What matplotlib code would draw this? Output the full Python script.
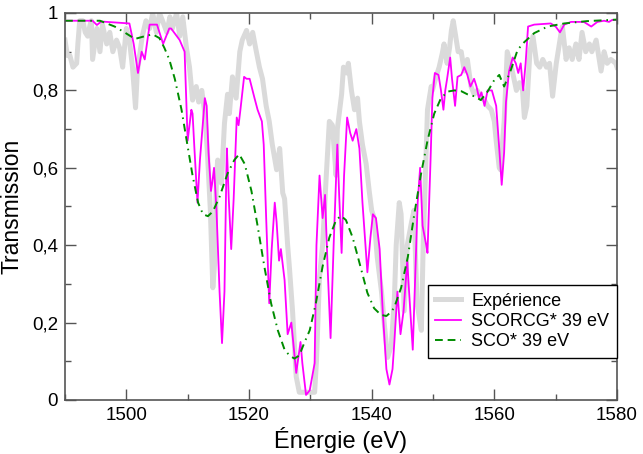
import numpy as np
import matplotlib.pyplot as plt
from matplotlib.ticker import MultipleLocator, FuncFormatter

plt.rcParams['font.family'] = ['Liberation Sans', 'DejaVu Sans']

# Experience (gray, noisy)
exp_E = [1490.0, 1490.4, 1490.8, 1491.3, 1491.9, 1492.1, 1492.4, 1492.9, 1493.3, 1493.7,
         1494.1, 1494.3, 1494.5, 1495.2, 1495.7, 1496.1, 1496.8, 1497.3, 1497.8, 1498.4,
         1498.9, 1499.4, 1500.0, 1500.5, 1501.0, 1501.5, 1501.8, 1502.6, 1503.2, 1503.8,
         1504.3, 1504.9, 1505.4, 1505.9, 1506.6, 1507.1, 1507.5, 1508.2, 1508.7, 1509.2,
         1509.8, 1510.3, 1510.8, 1511.4, 1511.8, 1512.3, 1512.8, 1513.2, 1513.7, 1514.1,
         1514.4, 1514.7, 1514.9, 1515.5, 1516.0, 1516.5, 1516.8, 1517.3, 1517.9, 1518.5,
         1518.9, 1519.6, 1520.1, 1520.6, 1521.2, 1521.7, 1522.2, 1522.8, 1523.3, 1523.8,
         1524.5, 1525.0, 1525.5, 1525.8, 1526.3, 1526.6, 1527.1, 1527.7, 1528.2, 1529.0,
         1529.9, 1530.7, 1531.0, 1531.5, 1532.0, 1532.6, 1533.1, 1533.6, 1534.2, 1534.4,
         1535.1, 1535.4, 1535.9, 1536.2, 1536.7, 1537.2, 1537.7, 1538.0, 1538.5, 1539.1,
         1539.6, 1540.0, 1540.4, 1540.9, 1541.6, 1542.1, 1542.6, 1543.2, 1543.7, 1544.0,
         1544.5, 1544.8, 1545.3, 1545.8, 1546.5, 1546.9, 1547.4, 1548.1, 1548.4, 1548.9,
         1549.1, 1549.7, 1549.9, 1550.5, 1551.0, 1551.5, 1551.8, 1552.3, 1552.7, 1553.0,
         1553.3, 1553.8, 1554.1, 1554.6, 1555.1, 1555.6, 1556.2, 1556.7, 1557.2, 1557.9,
         1558.4, 1558.9, 1559.5, 1560.0, 1560.3, 1560.8, 1561.0, 1561.6, 1562.1, 1562.8,
         1563.6, 1564.1, 1564.6, 1564.9, 1565.3, 1565.8, 1566.3, 1566.9, 1567.4, 1567.9,
         1568.5, 1569.0, 1569.5, 1570.1, 1570.9, 1571.1, 1571.7, 1572.2, 1572.7, 1573.3,
         1573.8, 1574.3, 1574.9, 1575.5, 1575.9, 1576.6, 1577.4, 1577.9, 1578.4, 1579.0,
         1579.8, 1580.0]
exp_T = [0.93, 0.89, 0.89, 0.86, 0.87, 0.92, 0.98, 0.98, 0.95, 0.94,
         0.97, 0.98, 0.88, 0.96, 0.90, 0.97, 0.92, 0.95, 0.90, 0.93,
         0.91, 0.86, 0.96, 0.93, 0.86, 0.755, 0.85, 0.94, 0.98, 0.96,
         1.0, 0.95, 1.0, 0.98, 0.95, 0.99, 0.96, 1.0, 0.94, 0.99,
         0.91, 0.86, 0.775, 0.81, 0.77, 0.80, 0.74, 0.645, 0.49, 0.29,
         0.355, 0.58, 0.62, 0.56, 0.715, 0.79, 0.74, 0.835, 0.78, 0.90,
         0.93, 0.955, 0.92, 0.95, 0.90, 0.86, 0.83, 0.76, 0.72, 0.66,
         0.595, 0.65, 0.535, 0.52, 0.40, 0.34, 0.23, 0.06, 0.02, 0.02,
         0.02, 0.02, 0.10, 0.32, 0.40, 0.58, 0.72, 0.71, 0.58, 0.70,
         0.79, 0.86, 0.845, 0.87, 0.80, 0.75, 0.78, 0.72, 0.66, 0.61,
         0.54, 0.49, 0.47, 0.37, 0.28, 0.19, 0.11, 0.14, 0.26, 0.40,
         0.51, 0.48, 0.23, 0.40, 0.46, 0.49, 0.25, 0.18, 0.40, 0.645,
         0.75, 0.81, 0.80, 0.835, 0.86, 0.895, 0.92, 0.87, 0.91, 0.955,
         0.98, 0.93, 0.90, 0.90, 0.85, 0.88, 0.81, 0.79, 0.80, 0.78,
         0.775, 0.76, 0.75, 0.72, 0.67, 0.60, 0.595, 0.72, 0.90, 0.86,
         0.80, 0.82, 0.80, 0.73, 0.76, 0.90, 0.94, 0.87, 0.86, 0.88,
         0.86, 0.87, 0.785, 0.87, 0.95, 0.965, 0.88, 0.91, 0.88, 0.92,
         0.88, 0.95, 0.90, 0.92, 0.90, 0.93, 0.85, 0.90, 0.87, 0.88,
         0.87, 0.86]

# SCORCG* 39 eV (magenta)
scorcg_E = [1490.0, 1494.5, 1495.2, 1495.9, 1500.5, 1501.2, 1501.9, 1502.5, 1503.0, 1503.8,
            1505.0, 1506.0, 1507.0, 1507.3, 1508.7, 1509.5, 1510.0, 1510.6, 1510.8, 1511.1,
            1511.6, 1512.0, 1512.8, 1513.1, 1513.4, 1513.8, 1514.0, 1514.3, 1514.7, 1515.2,
            1515.6, 1516.0, 1516.3, 1516.4, 1516.7, 1517.1, 1517.5, 1518.0, 1518.3, 1518.6,
            1519.2, 1519.6, 1520.1, 1520.9, 1521.4, 1522.1, 1522.4, 1522.8, 1523.3, 1523.7,
            1524.2, 1524.5, 1524.9, 1525.2, 1525.8, 1526.3, 1526.9, 1527.7, 1528.4, 1528.7,
            1529.3, 1529.9, 1530.7, 1531.0, 1531.5, 1532.0, 1532.4, 1532.8, 1533.3, 1533.8,
            1534.4, 1534.7, 1535.1, 1535.5, 1536.0, 1536.5, 1536.9, 1537.5, 1538.0, 1538.5,
            1539.3, 1539.8, 1540.2, 1540.7, 1541.3, 1541.8, 1542.4, 1542.9, 1543.4, 1543.7,
            1544.2, 1544.7, 1545.2, 1545.8, 1546.1, 1546.7, 1547.1, 1547.5, 1547.9, 1548.3,
            1548.9, 1549.1, 1549.6, 1549.9, 1550.3, 1550.9, 1551.3, 1551.7, 1552.0, 1552.3,
            1552.8, 1553.1, 1553.6, 1554.0, 1554.6, 1555.1, 1555.6, 1556.1, 1556.7, 1557.1,
            1557.5, 1557.9, 1558.4, 1558.9, 1559.6, 1560.3, 1560.8, 1561.2, 1561.6, 1561.9,
            1562.4, 1563.0, 1563.5, 1563.9, 1564.3, 1564.7, 1565.1, 1565.5, 1566.5, 1569.2,
            1570.0, 1570.7, 1571.4, 1572.5, 1574.6, 1575.8, 1576.8, 1577.9, 1578.7, 1579.2,
            1580.0]
scorcg_T = [0.98, 0.98, 0.969, 0.978, 0.973, 0.92, 0.845, 0.90, 0.88, 0.97,
            0.97, 0.92, 0.96, 0.96, 0.93, 0.90, 0.67, 0.75, 0.74, 0.65,
            0.51, 0.62, 0.78, 0.76, 0.64, 0.54, 0.56, 0.60, 0.49, 0.28,
            0.147, 0.28, 0.58, 0.65, 0.52, 0.39, 0.52, 0.73, 0.71, 0.75,
            0.835, 0.83, 0.83, 0.78, 0.75, 0.72, 0.66, 0.47, 0.25, 0.39,
            0.51, 0.46, 0.36, 0.39, 0.31, 0.17, 0.20, 0.07, 0.15, 0.095,
            0.013, 0.025, 0.095, 0.40, 0.58, 0.47, 0.53, 0.35, 0.16, 0.40,
            0.66, 0.53, 0.38, 0.58, 0.73, 0.69, 0.67, 0.70, 0.65, 0.51,
            0.33, 0.42, 0.48, 0.47, 0.39, 0.23, 0.08, 0.04, 0.08, 0.15,
            0.28, 0.17, 0.23, 0.36, 0.28, 0.13, 0.32, 0.51, 0.60, 0.45,
            0.40, 0.38, 0.62, 0.78, 0.845, 0.84, 0.80, 0.75, 0.80, 0.83,
            0.885, 0.83, 0.76, 0.835, 0.84, 0.86, 0.84, 0.81, 0.83, 0.81,
            0.78, 0.795, 0.76, 0.80, 0.80, 0.76, 0.65, 0.556, 0.64, 0.77,
            0.85, 0.885, 0.87, 0.845, 0.87, 0.80, 0.87, 0.965, 0.97, 0.973,
            0.965, 0.95, 0.97, 0.977, 0.977, 0.965, 0.977, 0.98, 0.977, 0.982,
            0.982]

# SCO* 39 eV (green dashed)
sco_E = [1490.0, 1495.7, 1498.1, 1499.7, 1501.4, 1503.0, 1504.3, 1505.4, 1506.2, 1507.0,
         1507.9, 1509.0, 1510.0, 1510.8, 1511.7, 1512.5, 1513.3, 1514.1, 1515.2, 1516.5,
         1517.6, 1518.4, 1519.3, 1520.4, 1521.4, 1522.5, 1523.6, 1524.7, 1525.8, 1526.6,
         1527.4, 1528.2, 1529.0, 1529.9, 1530.9, 1532.0, 1533.1, 1534.2, 1535.0, 1535.8,
         1536.9, 1538.0, 1539.3, 1540.4, 1541.5, 1542.4, 1543.2, 1543.7, 1544.8, 1545.9,
         1546.9, 1548.0, 1549.1, 1550.2, 1551.3, 1552.4, 1553.5, 1554.6, 1555.6, 1556.7,
         1557.8, 1558.9, 1560.0, 1560.8, 1561.6, 1562.7, 1563.8, 1564.9, 1566.5, 1568.7,
         1571.4, 1575.1, 1580.0]
sco_T = [0.98, 0.98, 0.965, 0.95, 0.933, 0.94, 0.945, 0.935, 0.91, 0.88,
         0.83, 0.75, 0.655, 0.58, 0.51, 0.48, 0.475, 0.487, 0.525, 0.585,
         0.62, 0.635, 0.61, 0.54, 0.45, 0.345, 0.25, 0.18, 0.13, 0.115,
         0.107, 0.115, 0.147, 0.18, 0.25, 0.345, 0.42, 0.465, 0.476, 0.465,
         0.42, 0.355, 0.277, 0.237, 0.22, 0.217, 0.228, 0.24, 0.29, 0.37,
         0.475, 0.58, 0.67, 0.74, 0.78, 0.797, 0.80, 0.798, 0.79, 0.785,
         0.775, 0.797, 0.827, 0.84, 0.81, 0.853, 0.905, 0.925, 0.948, 0.965,
         0.973, 0.979, 0.983]

fig = plt.figure(figsize=(6.43, 4.54), dpi=100)
ax = fig.add_axes([65/643, 54/454, 552/643, 387/454])

ax.plot(exp_E, exp_T, color='#dadada', lw=3.6, label='Expérience', solid_joinstyle='round')
ax.plot(scorcg_E, scorcg_T, color='#ff00ff', lw=1.3, label='SCORCG* 39 eV')
ax.plot(sco_E, sco_T, color='#008c00', lw=1.4, dashes=(4, 2.5, 4, 2.5, 0.8, 2.5),
        label='SCO* 39 eV')

ax.set_xlim(1490, 1580)
ax.set_ylim(0, 1)
ax.xaxis.set_major_locator(MultipleLocator(20))
ax.xaxis.set_minor_locator(MultipleLocator(10))
ax.yaxis.set_major_locator(MultipleLocator(0.2))
ax.yaxis.set_minor_locator(MultipleLocator(0.1))
ax.yaxis.set_major_formatter(FuncFormatter(lambda v, p: ('%g' % round(v, 1)).replace('.', ',')))

ax.tick_params(which='both', direction='in', top=True, right=True, color='#555555',
               labelsize=13.5, pad=5)
ax.tick_params(which='major', length=8, width=1)
ax.tick_params(which='minor', length=4.5, width=1)
for s in ax.spines.values():
    s.set_color('#555555')
    s.set_linewidth(1.2)

ax.set_xlabel('Énergie (eV)', fontsize=17, labelpad=2)
ax.set_ylabel('Transmission', fontsize=16.5, labelpad=6)

leg = ax.legend(loc='lower right', bbox_to_anchor=(1.0, 0.109), borderaxespad=0,
                fontsize=13, handlelength=1.4, handletextpad=0.6, labelspacing=0.18,
                borderpad=0.42, fancybox=False, framealpha=1, edgecolor='black')
leg.get_frame().set_linewidth(1.0)

fig.savefig('out.png', dpi=100)
